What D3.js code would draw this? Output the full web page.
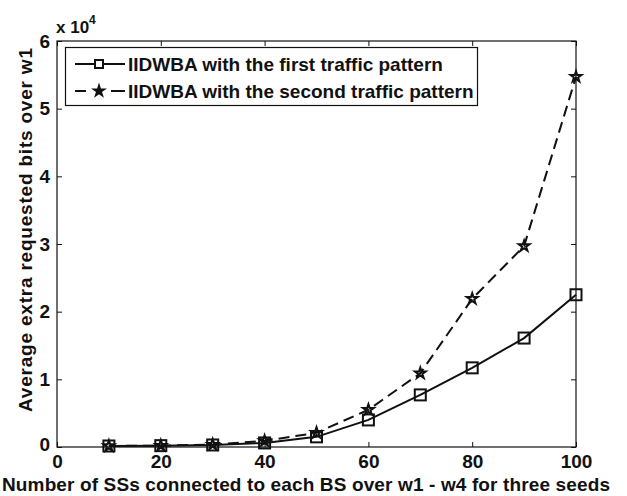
<!DOCTYPE html>
<html><head><meta charset="utf-8">
<script src="https://cdn.jsdelivr.net/npm/d3@7"></script>
<style>body{margin:0;background:#fff}svg{display:block}text{font-family:"Liberation Sans",Arial,sans-serif;font-weight:bold;fill:#111}</style>
</head><body><svg id="c" width="627" height="496"></svg>
<script>
const xValues = [10,20,30,40,50,60,70,80,90,100];
const firstPattern = [0.015,0.02,0.03,0.06,0.15,0.40,0.77,1.17,1.61,2.25];
const secondPattern = [0.015,0.02,0.035,0.09,0.21,0.55,1.09,2.19,2.97,5.47];
const seriesNames = ["IIDWBA with the first traffic pattern","IIDWBA with the second traffic pattern"];
const xTicks = [0,20,40,60,80,100];
const yTicks = [0,1,2,3,4,5,6];
const xTitle = "Number of SSs connected to each BS over w1 - w4 for three seeds";
const yTitle = "Average extra requested bits over w1";

const svg = d3.select("#c");
const L=57,R=576,T=41,B=447;
const x = d3.scaleLinear().domain([0,100]).range([L,R]);
const y = d3.scaleLinear().domain([0,6]).range([B,T]);
const ink="#111";

svg.append("rect").attr("x",L).attr("y",T).attr("width",R-L).attr("height",B-T)
  .attr("fill","none").attr("stroke",ink).attr("stroke-width",1.2);

const fs=19;
const fmt=d3.format("d");
const xa = svg.append("g").attr("transform",`translate(0,${B})`)
  .call(d3.axisBottom(x).tickValues(xTicks).tickFormat(fmt).tickSizeInner(-5).tickSizeOuter(0).tickPadding(8));
const xt = svg.append("g").attr("transform",`translate(0,${T})`)
  .call(d3.axisTop(x).tickValues(xTicks).tickSizeInner(-5).tickSizeOuter(0).tickFormat(""));
const ya = svg.append("g").attr("transform",`translate(${L},0)`)
  .call(d3.axisLeft(y).tickValues(yTicks).tickFormat(fmt).tickSizeInner(-5).tickSizeOuter(0).tickPadding(7));
const yr = svg.append("g").attr("transform",`translate(${R},0)`)
  .call(d3.axisRight(y).tickValues(yTicks).tickSizeInner(-5).tickSizeOuter(0).tickFormat(""));
[xa,xt,ya,yr].forEach(g=>{g.select(".domain").remove();g.selectAll("line").attr("stroke",ink);
  g.selectAll("text").attr("font-size",fs).attr("font-family","Liberation Sans, Arial").attr("font-weight","bold").attr("fill",ink);});
xa.selectAll("text").attr("dy","0.71em");
ya.selectAll(".tick").filter(d=>d===0).select("text").attr("y",-3);

const ex = svg.append("text").attr("x",56).attr("y",33).attr("font-size",17);
ex.append("tspan").text("x 10");
ex.append("tspan").attr("dy",-9).attr("font-size",12).text("4");

svg.append("text").attr("x",306).attr("y",491).attr("text-anchor","middle").attr("font-size",fs)
  .attr("textLength",608).attr("lengthAdjust","spacing").text(xTitle);
svg.append("text").attr("transform",`translate(32,230) rotate(-90)`).attr("text-anchor","middle").attr("font-size",fs)
  .attr("textLength",364).attr("lengthAdjust","spacing").text(yTitle);

const line = d3.line().x((d,i)=>x(xValues[i])).y(d=>y(d));
svg.append("path").datum(secondPattern).attr("d",line).attr("fill","none").attr("stroke",ink)
  .attr("stroke-width",2).attr("stroke-dasharray","11,6");
svg.append("path").datum(firstPattern).attr("d",line).attr("fill","none").attr("stroke",ink).attr("stroke-width",2);

const star = d3.symbol().type(d3.symbolStar).size(36);
svg.append("g").selectAll("path").data(secondPattern).join("path")
  .attr("transform",(d,i)=>`translate(${x(xValues[i])},${y(d)})`).attr("d",star)
  .attr("fill","none").attr("stroke",ink).attr("stroke-width",2);
svg.append("g").selectAll("rect").data(firstPattern).join("rect")
  .attr("x",(d,i)=>x(xValues[i])-5.5).attr("y",d=>y(d)-5.5).attr("width",11).attr("height",11)
  .attr("fill","none").attr("stroke",ink).attr("stroke-width",2);

const lg = svg.append("g");
lg.append("rect").attr("x",65.5).attr("y",47.5).attr("width",412).attr("height",58)
  .attr("fill","#fff").attr("stroke",ink).attr("stroke-width",1.2);
const rows=[64,91];
lg.append("line").attr("x1",75).attr("x2",125).attr("y1",rows[0]).attr("y2",rows[0]).attr("stroke",ink).attr("stroke-width",2);
lg.append("rect").attr("x",99-4).attr("y",rows[0]-4).attr("width",8).attr("height",8).attr("fill","#fff").attr("stroke",ink).attr("stroke-width",2);
lg.append("line").attr("x1",75).attr("x2",86).attr("y1",rows[1]).attr("y2",rows[1]).attr("stroke",ink).attr("stroke-width",2);
lg.append("line").attr("x1",111).attr("x2",125).attr("y1",rows[1]).attr("y2",rows[1]).attr("stroke",ink).attr("stroke-width",2);
lg.append("path").attr("transform",`translate(99,${rows[1]})`).attr("d",d3.symbol().type(d3.symbolStar).size(40)).attr("fill",ink).attr("stroke",ink).attr("stroke-width",1.5);
seriesNames.forEach((n,i)=>lg.append("text").attr("x",128).attr("y",rows[i]).attr("dy","0.35em").attr("font-size",fs).text(n));
</script></body></html>
